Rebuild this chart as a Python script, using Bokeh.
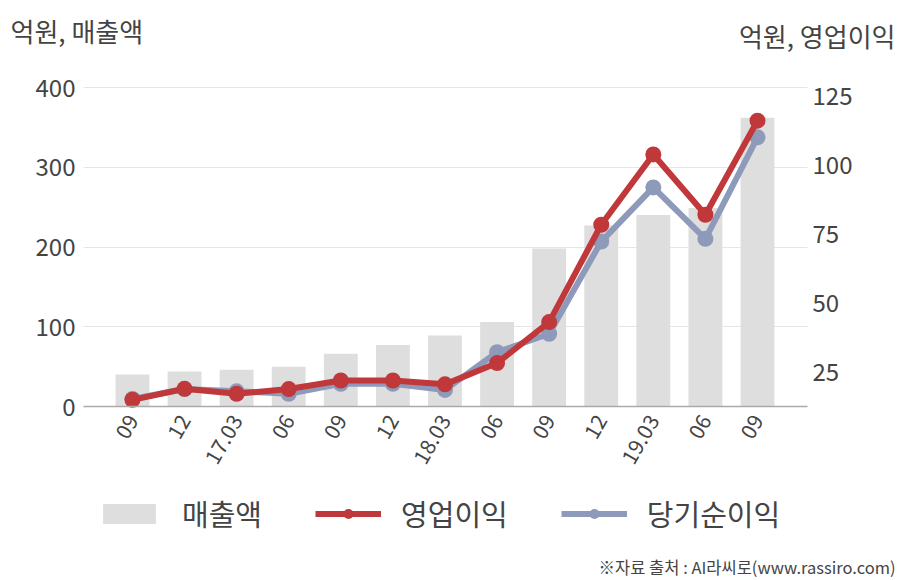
import math
from bokeh.plotting import figure
from bokeh.models import (Range1d, LinearAxis, FixedTicker, Label, Legend, LegendItem,
                          ColumnDataSource, Grid)
from bokeh.embed import file_html
from bokeh.resources import INLINE

# ---- data ----
periods = ["09", "12", "17.03", "06", "09", "12", "18.03", "06", "09", "12", "19.03", "06", "09"]
revenue = [40, 44, 46, 50, 66, 77, 89, 106, 198, 227, 240, 249, 362]
op_income = [15.1, 19.1, 17.3, 19.0, 22.1, 22.1, 20.7, 28.4, 43.2, 78.4, 103.8, 82.0, 116.0]
net_income = [15.4, 19.0, 18.2, 17.3, 20.9, 20.9, 18.7, 32.3, 39.0, 72.3, 91.9, 73.3, 110.0]
left_ticks = [0, 100, 200, 300, 400]
right_ticks = [25, 50, 75, 100, 125]
series_names = ["매출액", "영업이익", "당기순이익"]

FONT = "Noto Sans CJK KR"
BAR_C = "#dedede"
RED = "#c0383a"
BLUE = "#8d9aba"
TXT = "#444444"
W, H = 908, 580

# plot-area geometry (pixels) -> the figure frame covers the whole canvas,
# axes are fixed inside it at the edges of the chart area
AL, AR, AT, AB = 83, 807, 87, 406
n = len(periods)
step = (AR - AL) / (n - 1 + 0.94 + 0.96)
x_lo = -0.94 - AL / step
x_hi = x_lo + W / step
ypx = (AB - AT) / 400.0
y_lo = 0 - (H - AB) / ypx
y_hi = 400 + AT / ypx
r0, r1 = 12.7, 128.0
rpx = (AB - AT) / (r1 - r0)
r_lo = r0 - (H - AB) / rpx
r_hi = r1 + AT / rpx
xa, xb = -0.94, n - 1 + 0.96

xs = list(range(n))
src = ColumnDataSource(dict(x=xs, rev=revenue, op=op_income, net=net_income))

p = figure(width=W, height=H, output_backend="svg", toolbar_location=None,
           x_range=Range1d(x_lo, x_hi), y_range=Range1d(y_lo, y_hi),
           min_border=0, x_axis_type=None, y_axis_type=None)
p.extra_y_ranges = {"r": Range1d(r_lo, r_hi)}
p.outline_line_color = None
p.grid.grid_line_color = None


def style_axis(ax, size):
    ax.major_tick_line_color = None
    ax.minor_tick_line_color = None
    ax.major_tick_out = 0
    ax.major_tick_in = 0
    ax.minor_tick_out = 0
    ax.minor_tick_in = 0
    ax.major_label_text_font = FONT
    ax.major_label_text_font_size = size
    ax.major_label_text_color = TXT


lax = LinearAxis(ticker=FixedTicker(ticks=left_ticks), fixed_location=xa)
style_axis(lax, "24px")
lax.axis_line_color = None
lax.major_label_standoff = 8
p.add_layout(lax, "left")

rax = LinearAxis(y_range_name="r", ticker=FixedTicker(ticks=right_ticks), fixed_location=xb)
style_axis(rax, "24px")
rax.axis_line_color = None
rax.major_label_standoff = 5
p.add_layout(rax, "right")

bax = LinearAxis(ticker=FixedTicker(ticks=xs), fixed_location=0, bounds=(xa, xb))
style_axis(bax, "21px")
bax.major_label_overrides = {i: lab for i, lab in enumerate(periods)}
bax.major_label_orientation = math.pi / 3
bax.axis_line_color = "#aaaaaa"
bax.axis_line_width = 1.5
bax.major_label_standoff = 10
p.add_layout(bax, "below")

grid = Grid(dimension=1, ticker=FixedTicker(ticks=left_ticks[1:]), cross_bounds=(xa, xb),
            grid_line_color="#e6e6e6", grid_line_width=1)
p.add_layout(grid)

bars = p.vbar(x="x", top="rev", width=0.65, source=src, fill_color=BAR_C, line_color=None)
bl = p.line(x="x", y="net", source=src, y_range_name="r", line_color=BLUE, line_width=6)
bc = p.scatter(x="x", y="net", source=src, y_range_name="r", size=16, fill_color=BLUE, line_color=None)
rl = p.line(x="x", y="op", source=src, y_range_name="r", line_color=RED, line_width=6)
rc = p.scatter(x="x", y="op", source=src, y_range_name="r", size=16, fill_color=RED, line_color=None)

p.add_layout(Label(x=10, y=H - 30, x_units="screen", y_units="screen", text="억원, 매출액",
                   text_font=FONT, text_font_size="26px", text_color=TXT,
                   text_baseline="middle", text_align="left"))
p.add_layout(Label(x=895, y=H - 35, x_units="screen", y_units="screen", text="억원, 영업이익",
                   text_font=FONT, text_font_size="26px", text_color=TXT,
                   text_baseline="middle", text_align="right"))
p.add_layout(Label(x=895, y=14, x_units="screen", y_units="screen",
                   text="※자료 출처 : AI라씨로(www.rassiro.com)",
                   text_font=FONT, text_font_size="16.5px", text_color=TXT,
                   text_baseline="middle", text_align="right"))

legend = Legend(items=[LegendItem(label=series_names[0], renderers=[bars]),
                       LegendItem(label=series_names[1], renderers=[rl, rc]),
                       LegendItem(label=series_names[2], renderers=[bl, bc])],
                orientation="horizontal", location=(96, 46),
                label_text_font=FONT, label_text_font_size="29px", label_text_color=TXT,
                glyph_width=66, glyph_height=25, label_standoff=20, spacing=53,
                border_line_color=None, background_fill_alpha=0, padding=0, margin=0)
p.add_layout(legend, "center")

open("out.html", "w").write(file_html(p, INLINE))
